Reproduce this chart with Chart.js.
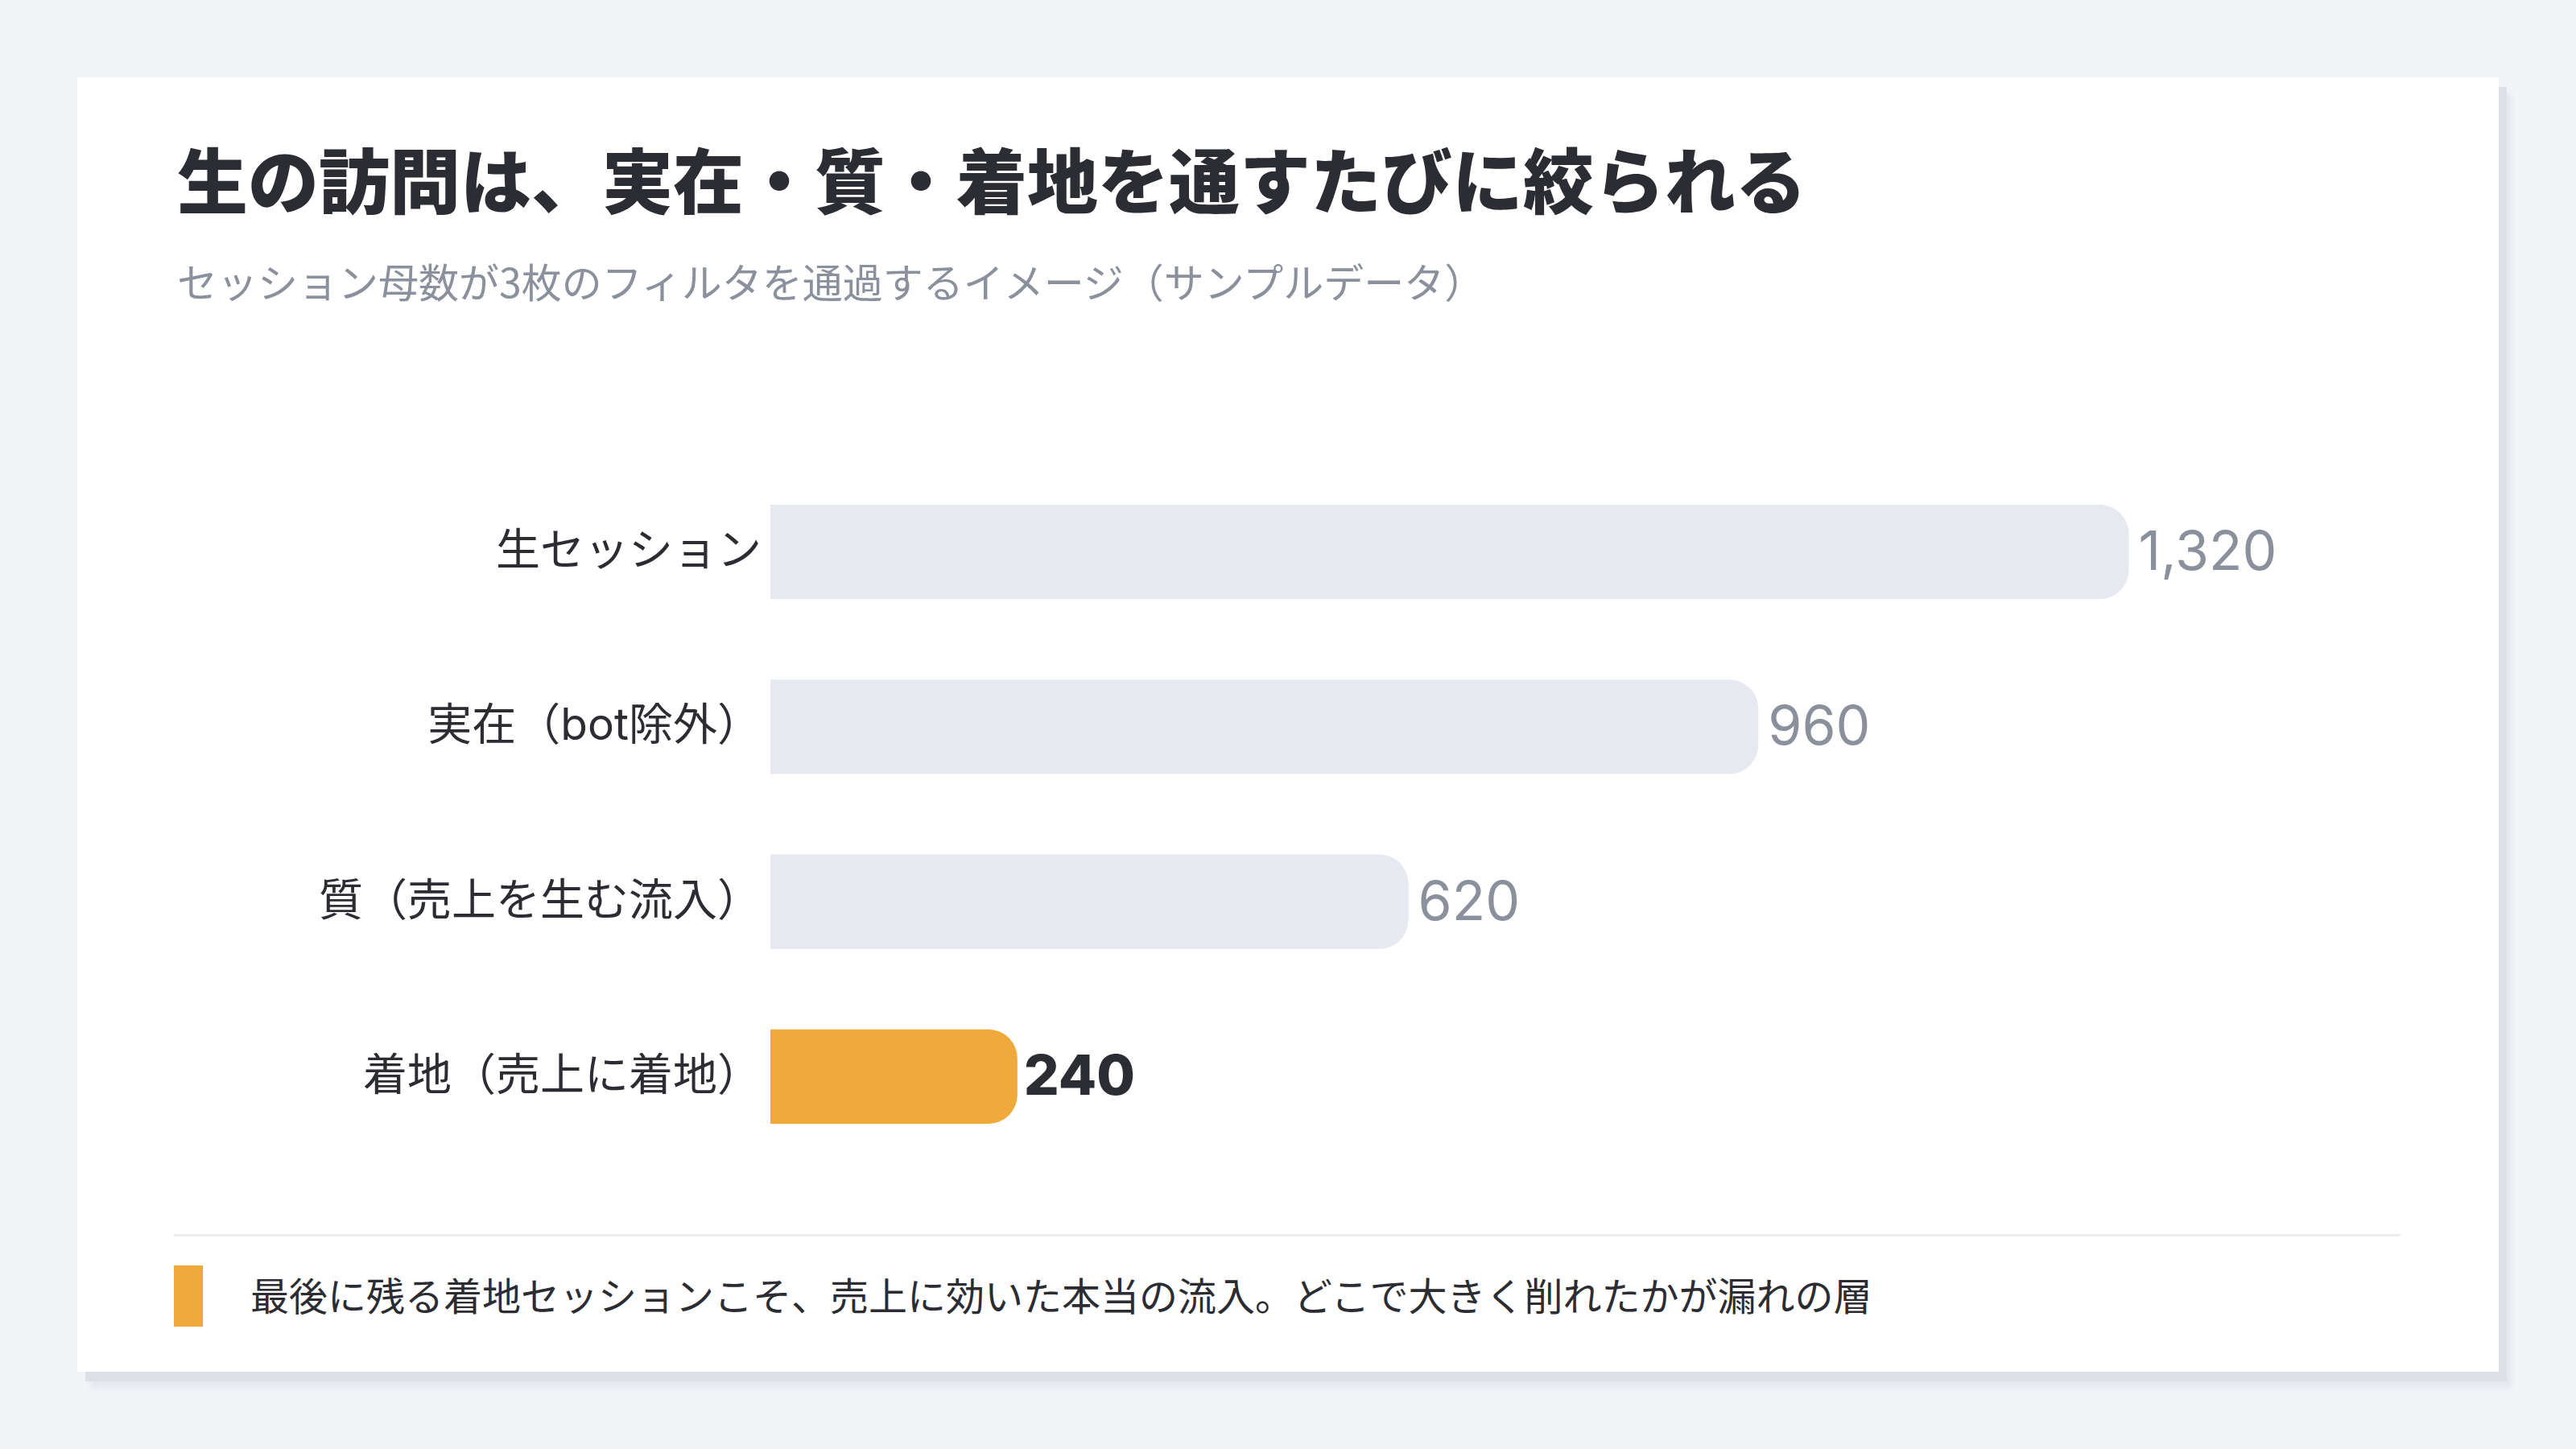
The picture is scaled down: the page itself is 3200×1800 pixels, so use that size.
<!DOCTYPE html>
<html lang="ja">
<head>
<meta charset="utf-8">
<script src="https://cdn.jsdelivr.net/npm/chart.js@4"></script>
<style>
  html, body { margin: 0; padding: 0; }
  body { width: 3200px; height: 1800px; background: #f3f4f8; position: relative; overflow: hidden;
         font-family: Inter, "Noto Sans CJK JP", sans-serif; color: #2b2d33; }
  .card { position: absolute; left: 96px; top: 96px; width: 3008px; height: 1608px; background: #fff;
          box-shadow: 10px 12px 0 #dee0e7, 16px 20px 6px rgba(222,224,231,0.6); }
  .title { position: absolute; left: 124px; top: 80px; font-size: 88px; line-height: 1; font-weight: 900;
           font-family: "Noto Sans CJK JP", sans-serif; color: #2b2d33; white-space: nowrap; }
  .subtitle { position: absolute; left: 124px; top: 227px; font-size: 50px; line-height: 1;
              font-family: "Noto Sans CJK JP", sans-serif; color: #8a909c; white-space: nowrap; }
  .chart-box { position: absolute; left: 120px; top: 481px; width: 2766px; height: 869px; }
  .divider { position: absolute; left: 120px; top: 1437px; width: 2766px; height: 3px; background: #eceef2; }
  .note-bar { position: absolute; left: 120px; top: 1476px; width: 36px; height: 76px; background: #f0a93b; }
  .note { position: absolute; left: 215px; top: 1487px; font-size: 48px; line-height: 1;
          font-family: "Noto Sans CJK JP", sans-serif; color: #2b2d33; white-space: nowrap; }
</style>
</head>
<body>
<div class="card">
  <div class="title">生の訪問は、実在・質・着地を通すたびに絞られる</div>
  <div class="subtitle">セッション母数が3枚のフィルタを通過するイメージ（サンプルデータ）</div>
  <div class="chart-box"><canvas id="funnel"></canvas></div>
  <div class="divider"></div>
  <div class="note-bar"></div>
  <div class="note">最後に残る着地セッションこそ、売上に効いた本当の流入。どこで大きく削れたかが漏れの層</div>
</div>
<script>
const categories = ["生セッション", "実在（bot除外）", "質（売上を生む流入）", "着地（売上に着地）"];
const sessions = [1320, 960, 620, 240];

const GRAY = "#e6e9f0";
const ORANGE = "#f0a93b";
const lastIndex = sessions.length - 1;

// numbers at the end of each bar
const valueLabels = {
    id: "valueLabels",
    afterDatasetsDraw(chart) {
        const ctx = chart.ctx;
        const meta = chart.getDatasetMeta(0);
        ctx.save();
        ctx.textBaseline = "middle";
        ctx.textAlign = "left";
        meta.data.forEach((bar, i) => {
            const last = i === lastIndex;
            ctx.font = last ? "800 69px Inter, sans-serif" : "400 68px Inter, sans-serif";
            ctx.fillStyle = last ? "#2b2d33" : "#8a909c";
            ctx.fillText(sessions[i].toLocaleString("en-US"), bar.x + (last ? 8 : 12), bar.y + 2);
        });
        ctx.restore();
    }
};

new Chart(document.getElementById("funnel"), {
    type: "bar",
    data: {
        labels: categories,
        datasets: [{
            data: sessions,
            backgroundColor: sessions.map((v, i) => i === lastIndex ? ORANGE : GRAY),
            borderRadius: 36,
            borderSkipped: "start",
            categoryPercentage: 1,
            barPercentage: 0.54
        }]
    },
    options: {
        indexAxis: "y",
        responsive: true,
        maintainAspectRatio: false,
        animation: false,
        layout: { padding: 0 },
        plugins: {
            legend: { display: false },
            tooltip: { enabled: false }
        },
        scales: {
            x: {
                display: false,
                min: 0,
                max: Math.max(...sessions) * 1.2
            },
            y: {
                grid: { display: false },
                border: { display: false },
                ticks: {
                    padding: 3,
                    color: "#2b2d33",
                    font: { size: 55, family: "Inter, 'Noto Sans CJK JP', sans-serif" }
                },
                afterFit(scale) {
                    scale.width = 741;
                    scale.paddingTop = 0;
                    scale.paddingBottom = 0;
                }
            }
        }
    },
    plugins: [valueLabels]
});
</script>
</body>
</html>
